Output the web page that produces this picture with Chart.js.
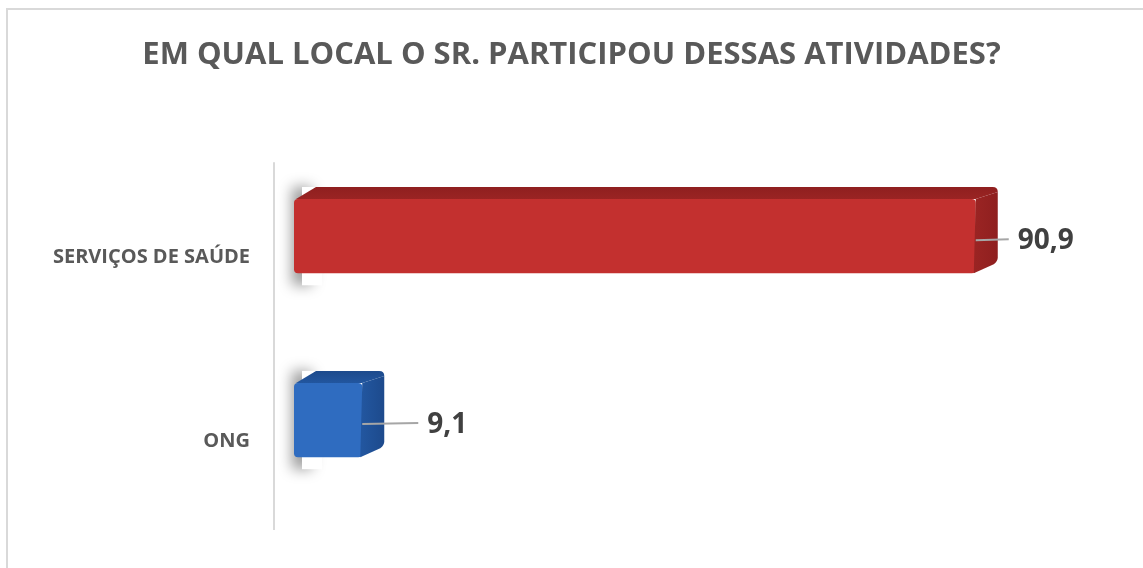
<!DOCTYPE html>
<html>
<head>
<meta charset="utf-8">
<script src="https://cdn.jsdelivr.net/npm/chart.js@4.4.1/dist/chart.umd.min.js"></script>
<style>
  html, body { margin: 0; padding: 0; background: #fff; overflow: hidden; }
  #frame { position: absolute; left: 6px; top: 8px; width: 1200px; height: 620px; border: 2px solid #d9d9d9; box-sizing: border-box; }
  #wrap { position: absolute; left: 0; top: 0; width: 1143px; height: 568px; }
</style>
</head>
<body>
<div id="frame"></div>
<div id="wrap"><canvas id="chart"></canvas></div>
<script>
const categories = ['SERVIÇOS DE SAÚDE', 'ONG'];
const values = [90.9, 9.1];
const chartTitle = 'EM QUAL LOCAL O SR. PARTICIPOU DESSAS ATIVIDADES?';

// front, highlight, dark edge, side face per bar
const faceColors = [
  { front: '#c3302f', light: '#dc4544', dark: '#8f1f1f', side: '#9a2423' },
  { front: '#2f6cc0', light: '#4a88dc', dark: '#1d4a8c', side: '#22569f' }
];

const DEPTH_X = 22, DEPTH_Y = 12;

const fmt = v => v.toFixed(1).replace('.', ',');

// 3D top + side faces and soft shadow behind each bar
const box3d = {
  id: 'box3d',
  beforeDatasetsDraw(chart) {
    const ctx = chart.ctx;
    chart.getDatasetMeta(0).data.forEach((bar) => {
      const top = bar.y - bar.height / 2, bottom = bar.y + bar.height / 2;
      ctx.save();
      ctx.shadowColor = 'rgba(0,0,0,0.4)';
      ctx.shadowBlur = 14;
      ctx.shadowOffsetX = -10;
      ctx.shadowOffsetY = 0;
      ctx.fillStyle = '#fff';
      ctx.fillRect(bar.base + 8, top - 12, 20, bottom - top + 24);
      ctx.restore();
    });
  },
  afterDatasetsDraw(chart) {
    const ctx = chart.ctx;
    chart.getDatasetMeta(0).data.forEach((bar, i) => {
      const c = faceColors[i];
      const top = bar.y - bar.height / 2, bottom = bar.y + bar.height / 2;
      const x0 = bar.base, x1 = bar.x;
      ctx.save();
      // top face
      ctx.beginPath();
      ctx.moveTo(x0 + 2, top);
      ctx.lineTo(x0 + DEPTH_X, top - DEPTH_Y);
      ctx.lineTo(x1 + DEPTH_X - 5, top - DEPTH_Y);
      ctx.quadraticCurveTo(x1 + DEPTH_X, top - DEPTH_Y, x1 + DEPTH_X, top - DEPTH_Y + 5);
      ctx.lineTo(x1, top);
      ctx.closePath();
      const gt = ctx.createLinearGradient(0, top - DEPTH_Y, 0, top);
      gt.addColorStop(0, c.dark);
      gt.addColorStop(1, c.side);
      ctx.fillStyle = gt;
      ctx.fill();
      // right face
      ctx.beginPath();
      ctx.moveTo(x1, top);
      ctx.lineTo(x1 + DEPTH_X, top - DEPTH_Y + 5);
      ctx.lineTo(x1 + DEPTH_X, bottom - DEPTH_Y - 4);
      ctx.quadraticCurveTo(x1 + DEPTH_X, bottom - DEPTH_Y, x1 + DEPTH_X - 4, bottom - DEPTH_Y + 3);
      ctx.lineTo(x1 - 2, bottom);
      ctx.closePath();
      const g = ctx.createLinearGradient(x1, 0, x1 + DEPTH_X, 0);
      g.addColorStop(0, c.side);
      g.addColorStop(1, c.dark);
      ctx.fillStyle = g;
      ctx.fill();
      ctx.restore();
    });
  }
};

// leader lines + value labels
const valueLabels = {
  id: 'valueLabels',
  afterDatasetsDraw(chart, args, opts) {
    const ctx = chart.ctx;
    chart.getDatasetMeta(0).data.forEach((bar, i) => {
      const off = opts.offsets[i];
      const y = bar.y + 3;
      ctx.save();
      ctx.strokeStyle = '#a6a6a6';
      ctx.lineWidth = 2;
      ctx.beginPath();
      ctx.moveTo(bar.x, y + 1);
      ctx.lineTo(bar.x + off - 9, y);
      ctx.stroke();
      ctx.fillStyle = '#404040';
      ctx.font = 'bold 28px "Open Sans"';
      ctx.textBaseline = 'middle';
      ctx.fillText(fmt(values[i]), bar.x + off, y + 2);
      ctx.restore();
    });
  }
};

// axis line in the 3D wall position
const axisWall = {
  id: 'axisWall',
  beforeDatasetsDraw(chart) {
    const a = chart.chartArea, ctx = chart.ctx;
    ctx.save();
    ctx.strokeStyle = '#d9d9d9';
    ctx.lineWidth = 2;
    ctx.beginPath();
    ctx.moveTo(a.left - 20, a.top + 18);
    ctx.lineTo(a.left - 20, a.bottom + 18);
    ctx.stroke();
    ctx.restore();
  }
};

const ctx = document.getElementById('chart');
new Chart(ctx, {
  type: 'bar',
  data: {
    labels: categories,
    datasets: [{
      data: values,
      backgroundColor: (c) => {
        const el = c.element;
        const col = faceColors[c.dataIndex];
        if (!el || !c.chart.chartArea) return col.front;
        const t = el.y - el.height / 2, b = el.y + el.height / 2;
        if (!isFinite(t) || !isFinite(b)) return col.front;
        const g = c.chart.ctx.createLinearGradient(0, t, 0, b);
        g.addColorStop(0, col.front);
        g.addColorStop(0.12, col.light);
        g.addColorStop(0.3, col.front);
        g.addColorStop(0.85, col.front);
        g.addColorStop(1, col.dark);
        return g;
      },
      borderWidth: 0,
      borderRadius: 4,
      borderSkipped: false,
      categoryPercentage: 1,
      barPercentage: 0.404
    }]
  },
  options: {
    indexAxis: 'y',
    responsive: true,
    maintainAspectRatio: false,
    animation: false,
    layout: { padding: { left: 0, right: 0, top: 0, bottom: 47 } },
    scales: {
      x: {
        min: 0, max: 113.2,
        display: false,
        grid: { display: false }
      },
      y: {
        afterFit: s => { s.width = 294; },
        grid: { display: false, drawTicks: false },
        border: { display: false },
        ticks: {
          padding: 44,
          labelOffset: 21,
          color: '#595959',
          font: { family: '"Open Sans"', size: 20, weight: 'bold' }
        }
      }
    },
    plugins: {
      legend: { display: false },
      tooltip: { enabled: false },
      title: {
        display: true,
        text: chartTitle,
        color: '#595959',
        font: { family: '"Open Sans"', size: 31, weight: 'bold', lineHeight: 1.2 },
        padding: { top: 37, bottom: 70 }
      },
      valueLabels: { offsets: [42, 65] }
    }
  },
  plugins: [axisWall, box3d, valueLabels]
});
</script>
</body>
</html>
